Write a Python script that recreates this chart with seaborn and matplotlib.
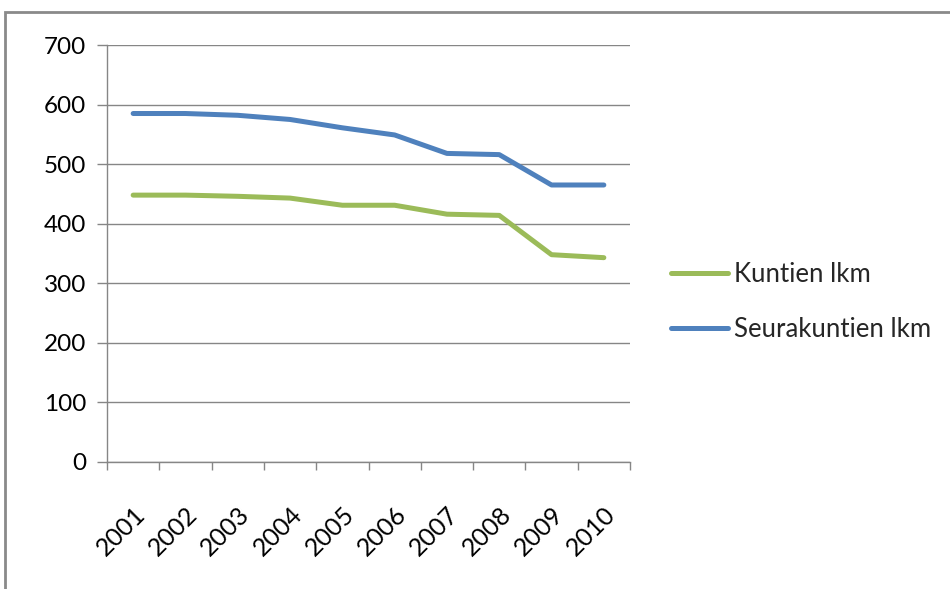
import matplotlib
matplotlib.use("Agg")
import matplotlib.pyplot as plt
import seaborn as sns
import pandas as pd
from matplotlib.patches import Rectangle
from matplotlib.ticker import FixedLocator, NullFormatter

years = ["2001", "2002", "2003", "2004", "2005", "2006", "2007", "2008", "2009", "2010"]
kuntien = [448, 448, 446, 443, 431, 431, 416, 414, 348, 343]
seurakuntien = [585, 585, 582, 575, 561, 549, 518, 516, 465, 465]
series_names = ["Kuntien lkm", "Seurakuntien lkm"]
yticks = [0, 100, 200, 300, 400, 500, 600, 700]

df = pd.DataFrame({
    "year": years * 2,
    "value": kuntien + seurakuntien,
    "series": [series_names[0]] * len(years) + [series_names[1]] * len(years),
})

sns.set_style("white")
plt.rcParams["font.family"] = ["Lato", "DejaVu Sans"]

fig = plt.figure(figsize=(9.5, 5.89), dpi=100)
ax = fig.add_axes([107 / 950, 1 - 462 / 589, (630 - 107) / 950, (462 - 45) / 589])

palette = {series_names[0]: "#9BBB59", series_names[1]: "#4F81BD"}
sns.lineplot(data=df, x="year", y="value", hue="series", hue_order=series_names,
             palette=palette, linewidth=3.6, ax=ax, sort=False)

ax.set_xlim(-0.5, len(years) - 0.5)
ax.set_ylim(0, 700)
ax.set_yticks(yticks)
ax.set_yticklabels([str(v) for v in yticks])
ax.set_xticks(range(len(years)))
ax.set_xticklabels(years, rotation=45, ha="right", rotation_mode="anchor")
ax.xaxis.set_minor_locator(FixedLocator([i - 0.5 for i in range(len(years) + 1)]))
ax.xaxis.set_minor_formatter(NullFormatter())
ax.tick_params(axis="x", which="major", length=0, pad=29, labelsize=18, labelcolor="#000000")
ax.tick_params(axis="x", which="minor", length=6, width=1, color="#868686", direction="out", bottom=True)
ax.tick_params(axis="y", length=7, width=1, color="#868686", direction="out", left=True,
               labelsize=17.5, labelcolor="#000000", pad=8)
ax.set_xlabel("")
ax.set_ylabel("")
ax.grid(axis="y", color="#868686", linewidth=1)
ax.grid(axis="x", visible=False)
ax.set_axisbelow(True)
for s in ["top", "right"]:
    ax.spines[s].set_visible(False)
for s in ["left", "bottom"]:
    ax.spines[s].set_color("#868686")
    ax.spines[s].set_linewidth(1)

ax.get_legend().remove()
handles, labels = ax.get_legend_handles_labels()
fig.legend(handles[:2], labels[:2], loc="upper left", bbox_to_anchor=(671 / 950, 1 - 262 / 589),
           frameon=False, fontsize=18.5, handlelength=2.2, handletextpad=0.25,
           labelspacing=1.15, borderaxespad=0, borderpad=0)

fig.patches.append(Rectangle((5 / 950, -0.1), 1.2, 1 - 12 / 589 + 0.1, transform=fig.transFigure,
                             fill=False, edgecolor="#8a8a8a", linewidth=2, figure=fig))

fig.savefig("out.png", dpi=100)
